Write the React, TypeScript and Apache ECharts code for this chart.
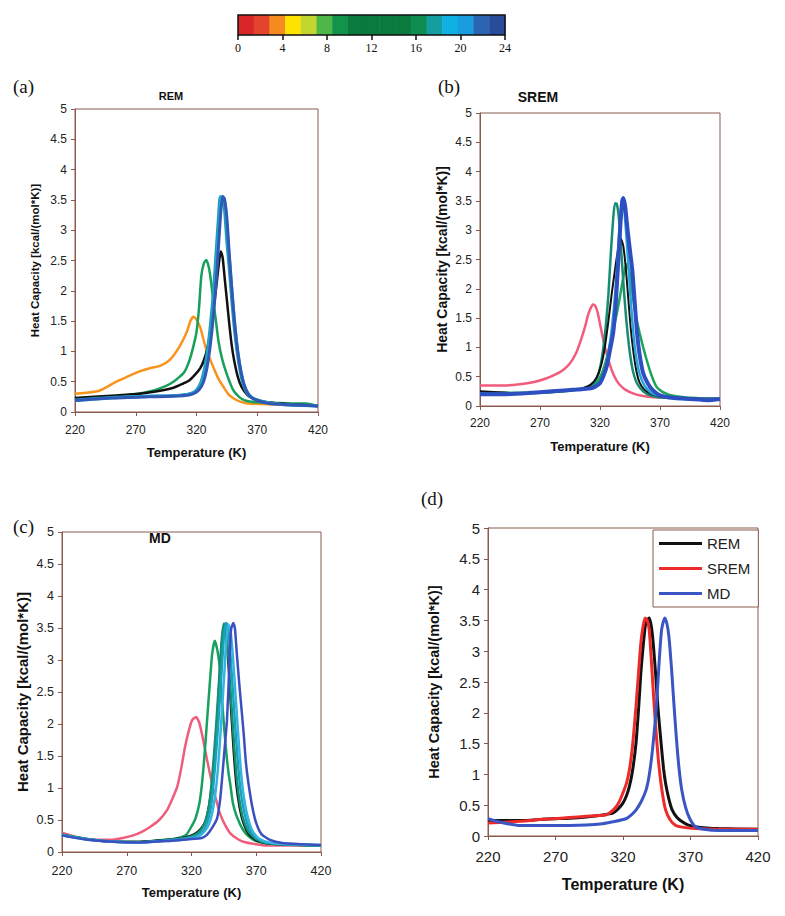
import React, { useEffect, useRef } from "react";
import * as echarts from "echarts";

type Pt = [number, number];

const BROWN = "#8b5a4e";
const SANS = "'Liberation Sans', Arial, sans-serif";
const SERIF = "'Liberation Serif', 'Times New Roman', serif";

const T0 = 220;
const xTickLabels = [220, 270, 320, 370, 420];
const yMax = 5;
const yStep = 0.5;

// colour bar (simulation time 0..24)
const colorbarTicks = [0, 4, 8, 12, 16, 20, 24];
const colorbarColors = [
  "#d9262b", "#e4432c", "#f58a1f", "#fde300", "#c3d62f", "#4db848", "#13924c",
  "#0a7a3e", "#0a7a3e", "#0a7a3e", "#0a7a3e",
  "#0f8c4f", "#139fa0", "#10b0e5", "#1a9ddf", "#2a64b2", "#284b9a",
];

// ---------- (a) REM ----------
const aOrange: Pt[] = [[220,0.30],[240,0.35],[254,0.50],[265,0.60],[273,0.67],[283,0.73],[290,0.76],[298,0.86],[306,1.08],[312,1.32],[315,1.50],[317.5,1.57],[320,1.52],[323,1.40],[326,1.18],[328,1.03],[331,0.88],[334,0.73],[338,0.55],[342,0.42],[346,0.30],[350,0.23],[356,0.17],[362,0.14],[375,0.13],[390,0.12],[405,0.11],[420,0.10]];
const aGreen: Pt[] = [[220,0.22],[250,0.26],[268,0.29],[284,0.35],[295,0.43],[301,0.50],[306,0.58],[310,0.66],[314,0.84],[317,1.05],[320,1.32],[322,1.70],[324,2.25],[326,2.45],[328,2.51],[330,2.40],[332,2.15],[334,1.80],[336,1.50],[338,1.18],[341,0.88],[345,0.62],[350,0.37],[355,0.25],[360,0.19],[370,0.16],[385,0.15],[400,0.14],[410,0.14],[420,0.10]];
const aBlack: Pt[] = [[220,0.23],[250,0.27],[273,0.30],[290,0.35],[301,0.40],[309,0.47],[314,0.52],[319,0.62],[323,0.72],[326,0.85],[329,1.05],[332,1.40],[335,1.85],[337,2.20],[339,2.55],[340,2.65],[341.5,2.55],[343,2.25],[345,1.85],[347,1.45],[349,1.10],[351,0.85],[354,0.58],[357,0.42],[362,0.28],[367,0.22],[378,0.16],[395,0.13],[420,0.10]];
const aTeal: Pt[] = [[220,0.20],[250,0.24],[280,0.26],[300,0.27],[312,0.29],[318,0.33],[322,0.42],[325,0.58],[328,0.88],[331,1.35],[334,2.00],[336,2.60],[338,3.20],[339.5,3.55],[341,3.55],[343,3.35],[345,2.80],[347,2.35],[349,1.85],[351,1.40],[353,1.05],[355,0.78],[358,0.48],[362,0.30],[367,0.22],[375,0.17],[390,0.13],[420,0.10]];
const aLightBlue: Pt[] = [[220,0.19],[250,0.23],[280,0.26],[300,0.27],[313,0.29],[319,0.33],[323,0.42],[326,0.58],[329,0.88],[332,1.35],[335,2.00],[337,2.60],[339,3.20],[340.5,3.55],[342,3.55],[344,3.35],[346,2.80],[348,2.30],[350,1.80],[352,1.35],[354,1.00],[356,0.74],[359,0.46],[363,0.29],[368,0.21],[376,0.16],[392,0.12],[420,0.10]];
const aBlue: Pt[] = [[220,0.19],[250,0.23],[280,0.25],[300,0.26],[314,0.28],[320,0.33],[324,0.42],[327,0.58],[330,0.90],[333,1.40],[336,2.10],[338,2.70],[340,3.30],[341.5,3.55],[343,3.52],[345,3.20],[347,2.60],[349,2.05],[351,1.55],[353,1.15],[355,0.85],[357,0.62],[360,0.40],[364,0.26],[370,0.19],[380,0.14],[395,0.12],[420,0.10]];

// ---------- (b) SREM ----------
const bPink: Pt[] = [[220,0.35],[240,0.35],[253,0.37],[265,0.41],[275,0.47],[283,0.54],[289,0.61],[295,0.73],[300,0.90],[304,1.12],[307.5,1.35],[310,1.55],[312,1.66],[314,1.73],[316,1.71],[318,1.60],[320,1.40],[322.5,1.15],[325,0.93],[328,0.72],[331,0.55],[334,0.43],[337,0.35],[341,0.28],[348,0.21],[356,0.17],[364,0.15],[380,0.14],[400,0.13],[420,0.13]];
const bTealGreen: Pt[] = [[220,0.23],[250,0.22],[275,0.23],[295,0.27],[305,0.30],[312,0.35],[317,0.46],[320,0.65],[322.5,0.95],[325,1.40],[327,1.90],[329,2.60],[331,3.20],[332.5,3.46],[334,3.45],[336,3.15],[338,2.55],[340,1.95],[342,1.45],[344,1.05],[346,0.75],[348,0.55],[351,0.38],[356,0.25],[362,0.18],[375,0.14],[400,0.13],[420,0.12]];
const bBlack: Pt[] = [[220,0.25],[250,0.22],[275,0.24],[295,0.27],[305,0.30],[312,0.36],[317,0.48],[321,0.70],[324,1.00],[327,1.45],[330,1.95],[333,2.40],[335.5,2.72],[337.5,2.85],[339.5,2.72],[341.5,2.35],[343.5,1.85],[345.5,1.35],[348,0.90],[350.5,0.58],[353,0.40],[357,0.28],[363,0.20],[375,0.15],[400,0.13],[420,0.12]];
const bGreen: Pt[] = [[220,0.22],[250,0.22],[275,0.23],[295,0.26],[305,0.29],[312,0.33],[318,0.42],[322,0.58],[326,0.85],[329,1.12],[332,1.40],[334,1.58],[336.5,1.85],[339.5,2.20],[342,2.42],[344.5,2.30],[347.5,1.85],[350,1.52],[353,1.25],[356,1.00],[359,0.78],[363,0.52],[367,0.33],[372,0.24],[378,0.19],[390,0.15],[405,0.13],[420,0.12]];
const bLightBlue: Pt[] = [[220,0.21],[250,0.21],[280,0.25],[300,0.28],[314,0.31],[320,0.40],[324,0.60],[327,0.90],[330,1.35],[333,2.00],[335.5,2.80],[337.5,3.35],[338.5,3.50],[340,3.40],[342,2.90],[344,2.30],[346,1.70],[348,1.20],[350,0.85],[353,0.55],[357,0.35],[363,0.22],[375,0.15],[400,0.12],[420,0.12]];
const bBlue: Pt[] = [[220,0.20],[240,0.20],[260,0.22],[280,0.25],[300,0.28],[314,0.31],[320,0.39],[323,0.52],[325.5,0.67],[328,0.92],[331,1.25],[333,1.70],[335,2.40],[337,3.10],[338.5,3.50],[339.5,3.55],[341,3.40],[343,3.00],[345,2.65],[347,2.30],[349,1.75],[351,1.22],[353,0.88],[356,0.56],[360,0.38],[364,0.27],[370,0.18],[380,0.14],[395,0.12],[410,0.10],[420,0.12]];

// ---------- (c) MD ----------
const cPink: Pt[] = [[220,0.30],[228,0.25],[237,0.21],[247,0.19],[257,0.19],[267,0.22],[275,0.26],[282,0.32],[288,0.39],[295,0.50],[301,0.65],[305,0.82],[309,1.02],[312,1.30],[315,1.64],[318,1.90],[320.5,2.06],[323.5,2.11],[326,2.02],[328,1.85],[330,1.65],[332,1.44],[334.5,1.20],[337,0.97],[339.5,0.78],[342,0.60],[346,0.42],[350,0.29],[355,0.21],[360,0.16],[370,0.12],[378,0.10],[395,0.10],[420,0.10]];
const cGreen: Pt[] = [[220,0.27],[240,0.20],[260,0.16],[280,0.16],[300,0.19],[310,0.22],[316,0.27],[320,0.40],[323,0.52],[326,0.75],[328,1.05],[330,1.50],[332,2.05],[334,2.60],[336,3.10],[338,3.30],[340,3.15],[342,2.85],[343.5,2.40],[345,2.00],[346.7,1.59],[348.5,1.25],[350,1.05],[352,0.76],[355,0.55],[360,0.34],[365,0.23],[370,0.17],[380,0.13],[400,0.11],[420,0.10]];
const cBlack: Pt[] = [[220,0.27],[240,0.20],[260,0.16],[280,0.16],[300,0.19],[315,0.23],[322,0.28],[327,0.36],[331,0.50],[334,0.80],[337,1.30],[339.5,2.00],[341.5,2.70],[343.5,3.30],[345,3.50],[346.5,3.40],[348.5,2.90],[350.5,2.20],[352.5,1.55],[354.5,1.05],[357,0.70],[360,0.45],[364,0.28],[370,0.18],[380,0.13],[400,0.11],[420,0.10]];
const cTealGreen: Pt[] = [[220,0.27],[240,0.20],[260,0.16],[280,0.15],[300,0.18],[314,0.21],[322,0.26],[327,0.34],[330.5,0.47],[333.5,0.72],[335.5,1.07],[337.5,1.55],[339.5,2.11],[341.5,2.75],[343.5,3.35],[345,3.57],[346.5,3.52],[348.5,3.05],[350.5,2.40],[352.5,1.80],[354.5,1.25],[356.5,0.88],[359.5,0.55],[364,0.32],[370,0.20],[378,0.14],[395,0.12],[420,0.10]];
const cTeal: Pt[] = [[220,0.27],[240,0.20],[260,0.16],[280,0.15],[300,0.18],[315,0.21],[324,0.25],[329,0.33],[332,0.45],[335,0.70],[337,1.07],[339,1.55],[341,2.11],[343,2.75],[345,3.35],[346.5,3.58],[348,3.55],[350,3.10],[352,2.50],[354,1.90],[356,1.35],[358,0.95],[361,0.60],[365,0.35],[370,0.22],[378,0.15],[395,0.12],[420,0.10]];
const cLightBlue: Pt[] = [[220,0.26],[240,0.19],[260,0.16],[280,0.15],[300,0.17],[316,0.20],[325,0.24],[330,0.32],[334,0.46],[337,0.72],[339.5,1.10],[341.5,1.60],[343.5,2.20],[345.5,2.85],[347,3.35],[348.5,3.55],[350,3.48],[352,3.05],[354,2.45],[356,1.85],[358,1.30],[360,0.92],[363,0.58],[367,0.33],[372,0.21],[380,0.15],[395,0.12],[420,0.11]];
const cBlue: Pt[] = [[220,0.26],[240,0.19],[260,0.16],[280,0.15],[300,0.17],[318,0.20],[328,0.22],[332,0.27],[336,0.38],[339.7,0.52],[342,0.80],[343.5,1.12],[345.5,1.60],[347.4,2.06],[349,2.80],[350.5,3.47],[352.3,3.58],[353.5,3.50],[355,3.10],[357,2.60],[359,2.15],[360.5,1.80],[362,1.40],[364,1.07],[367,0.70],[370,0.45],[374,0.28],[380.6,0.19],[390,0.14],[405,0.12],[420,0.11]];

// ---------- (d) comparison ----------
const dREM: Pt[] = [[220,0.25],[243.8,0.25],[260,0.27],[268,0.28],[280,0.29],[292.8,0.31],[305,0.34],[312.4,0.37],[316,0.43],[319.8,0.53],[322.5,0.65],[324.7,0.80],[327,1.05],[329.6,1.50],[331.5,2.05],[333.2,2.64],[335,3.10],[337,3.48],[339.4,3.54],[341,3.40],[342.5,3.10],[344.3,2.59],[346,2.05],[348,1.56],[350,1.10],[351.6,0.85],[354,0.60],[356.5,0.42],[360,0.30],[363.9,0.23],[368,0.18],[373.7,0.15],[382,0.13],[390.8,0.12],[420,0.11]];
const dSREM: Pt[] = [[220,0.21],[243.8,0.24],[260,0.27],[268.3,0.28],[280,0.30],[292.8,0.32],[300,0.33],[307,0.34],[311,0.39],[314.8,0.47],[317.5,0.57],[319.8,0.69],[322.5,0.85],[324.7,1.07],[327,1.45],[329.6,2.10],[331.5,2.65],[333.2,3.13],[335,3.42],[336.4,3.54],[338,3.50],[339.4,3.35],[341,2.85],[343,2.15],[345,1.55],[346.7,1.12],[349,0.72],[351.6,0.42],[355,0.26],[359,0.17],[365,0.14],[373.7,0.12],[390,0.11],[420,0.11]];
const dMD: Pt[] = [[220,0.28],[230,0.22],[243.8,0.17],[268.3,0.17],[292.8,0.18],[305,0.20],[312.4,0.23],[322.2,0.28],[326,0.34],[329.6,0.42],[333.5,0.56],[337,0.74],[339.5,1.00],[341.8,1.39],[343.8,1.85],[345.5,2.37],[347,2.90],[348.6,3.35],[350.9,3.54],[352.5,3.45],[354,3.24],[356,2.70],[357.7,2.15],[359.5,1.60],[361.4,1.12],[363.5,0.75],[366.3,0.47],[369.5,0.28],[373.7,0.15],[380,0.11],[390.8,0.09],[420,0.09]];

type S = { name: string; color: string; width: number; data: Pt[] };

const panelA: S[] = [
  { name: "a-orange", color: "#f7941d", width: 2.5, data: aOrange },
  { name: "a-green", color: "#16a05a", width: 2.5, data: aGreen },
  { name: "a-black", color: "#111111", width: 2.5, data: aBlack },
  { name: "a-teal", color: "#1c9fb2", width: 3, data: aTeal },
  { name: "a-lightblue", color: "#27a6dc", width: 3, data: aLightBlue },
  { name: "a-blue", color: "#3159b4", width: 3, data: aBlue },
];
const panelB: S[] = [
  { name: "b-pink", color: "#f25b7b", width: 2.5, data: bPink },
  { name: "b-green", color: "#1ea35c", width: 2.5, data: bGreen },
  { name: "b-tealgreen", color: "#168c72", width: 2.5, data: bTealGreen },
  { name: "b-black", color: "#111111", width: 2, data: bBlack },
  { name: "b-lightblue", color: "#27a3d8", width: 2.5, data: bLightBlue },
  { name: "b-blue", color: "#2d4fc2", width: 4, data: bBlue },
];
const panelC: S[] = [
  { name: "c-pink", color: "#f05c7c", width: 2.5, data: cPink },
  { name: "c-green", color: "#17a05e", width: 2.5, data: cGreen },
  { name: "c-black", color: "#111111", width: 2, data: cBlack },
  { name: "c-tealgreen", color: "#139072", width: 2.5, data: cTealGreen },
  { name: "c-teal", color: "#18a3b8", width: 2.5, data: cTeal },
  { name: "c-lightblue", color: "#35b3e3", width: 2.5, data: cLightBlue },
  { name: "c-blue", color: "#3b4fc0", width: 2.5, data: cBlue },
];
const panelD: S[] = [
  { name: "REM", color: "#111111", width: 3, data: dREM },
  { name: "SREM", color: "#ee2a2a", width: 3, data: dSREM },
  { name: "MD", color: "#3a55c4", width: 3, data: dMD },
];

type Panel = {
  grid: { left: number; top: number; width: number; height: number };
  tickFont: number; labelMargin: number;
  yNameFont: number; yNameGap: number;
  xNameFont: number; xNameGap: number;
  series: S[];
};

const panels: Panel[] = [
  { grid: { left: 75, top: 109, width: 243, height: 303 }, tickFont: 12, labelMargin: 12, yNameFont: 11.5, yNameGap: 34, xNameFont: 13, xNameGap: 34, series: panelA },
  { grid: { left: 480, top: 113, width: 240, height: 293 }, tickFont: 12, labelMargin: 11, yNameFont: 14, yNameGap: 31, xNameFont: 13, xNameGap: 34, series: panelB },
  { grid: { left: 62, top: 532, width: 259, height: 320 }, tickFont: 12.5, labelMargin: 12, yNameFont: 15, yNameGap: 32, xNameFont: 13, xNameGap: 34, series: panelC },
  { grid: { left: 488, top: 528, width: 270, height: 308 }, tickFont: 15, labelMargin: 13, yNameFont: 14.5, yNameGap: 47, xNameFont: 16, xNameGap: 40, series: panelD },
];

const panelLetters = [
  { text: "(a)", x: 25, y: 88 },
  { text: "(b)", x: 450, y: 88 },
  { text: "(c)", x: 25, y: 528 },
  { text: "(d)", x: 433, y: 500 },
];
const panelTitles = [
  { text: "REM", x: 171, y: 96, size: 11 },
  { text: "SREM", x: 538, y: 97, size: 14 },
  { text: "MD", x: 160, y: 538, size: 14 },
];

function buildOption(): any {
  const grids: any[] = [];
  const xAxes: any[] = [];
  const yAxes: any[] = [];
  const series: any[] = [];

  panels.forEach((p, i) => {
    grids.push({ ...p.grid, show: true, borderColor: BROWN, borderWidth: 1, backgroundColor: "transparent" });
    xAxes.push({
      type: "value", gridIndex: i, min: 0, max: xTickLabels[xTickLabels.length - 1] - T0, interval: 50,
      name: "Temperature (K)", nameLocation: "middle", nameGap: p.xNameGap,
      nameTextStyle: { fontFamily: SANS, fontSize: p.xNameFont, fontWeight: "bold", color: "#111" },
      axisLine: { show: true, lineStyle: { color: BROWN, width: 1 } },
      axisTick: { show: true, inside: false, length: 4, lineStyle: { color: BROWN } },
      axisLabel: { fontFamily: SANS, fontSize: p.tickFont, color: "#222", margin: p.labelMargin, formatter: (v: number) => String(v + T0) },
      splitLine: { show: false },
    });
    yAxes.push({
      type: "value", gridIndex: i, min: 0, max: yMax, interval: yStep,
      name: "Heat Capacity [kcal/(mol*K)]", nameLocation: "middle", nameGap: p.yNameGap, nameRotate: 90,
      nameTextStyle: { fontFamily: SANS, fontSize: p.yNameFont, fontWeight: "bold", color: "#111" },
      axisLine: { show: true, lineStyle: { color: BROWN, width: 1 } },
      axisTick: { show: true, inside: false, length: 4, lineStyle: { color: BROWN } },
      axisLabel: { fontFamily: SANS, fontSize: p.tickFont, color: "#222", margin: 8 },
      splitLine: { show: false },
    });
    p.series.forEach((s) => {
      series.push({
        type: "line", name: s.name, xAxisIndex: i, yAxisIndex: i,
        data: s.data.map(([t, v]) => [t - T0, v]),
        showSymbol: false, symbol: "none", smooth: 0.2,
        lineStyle: { color: s.color, width: s.width }, itemStyle: { color: s.color },
        silent: true,
      });
    });
  });

  // colour bar
  const cbIndex = panels.length;
  grids.push({ left: 238, top: 15, width: 267, height: 20, show: true, borderColor: "#111", borderWidth: 1.5, backgroundColor: "transparent", z: 5 });
  xAxes.push({
    type: "value", gridIndex: cbIndex, min: colorbarTicks[0], max: colorbarTicks[colorbarTicks.length - 1], interval: 4,
    axisLine: { show: false }, axisTick: { show: true, length: 5, lineStyle: { color: "#111", width: 1.5 } },
    axisLabel: { fontFamily: SERIF, fontSize: 12, color: "#111", margin: 7 }, splitLine: { show: false },
  });
  yAxes.push({ type: "value", gridIndex: cbIndex, min: 0, max: 1, show: false });
  const n = colorbarColors.length;
  const span = colorbarTicks[colorbarTicks.length - 1] - colorbarTicks[0];
  series.push({
    type: "custom", xAxisIndex: cbIndex, yAxisIndex: cbIndex, silent: true,
    data: colorbarColors.map((_, k) => [k * span / n, (k + 1) * span / n, k]),
    renderItem: (_params: any, api: any) => {
      const s = api.coord([api.value(0), 1]);
      const e = api.coord([api.value(1), 0]);
      return { type: "rect", shape: { x: s[0], y: s[1], width: e[0] - s[0] + 0.5, height: e[1] - s[1] }, style: { fill: colorbarColors[api.value(2)] } };
    },
  });

  const graphics: any[] = [];
  panelLetters.forEach((l) => graphics.push({ type: "text", left: l.x - 12, top: l.y - 11, style: { text: l.text, font: `19px ${SERIF}`, fill: "#111" } }));
  panelTitles.forEach((t) => graphics.push({ type: "text", x: t.x, y: t.y, style: { text: t.text, font: `bold ${t.size}px ${SANS}`, fill: "#111", textAlign: "center", textVerticalAlign: "middle" } }));

  return {
    animation: false,
    backgroundColor: "#ffffff",
    grid: grids, xAxis: xAxes, yAxis: yAxes, series,
    legend: {
      data: panelD.map((s) => s.name), orient: "vertical", left: 653, top: 530,
      icon: "rect", itemWidth: 43, itemHeight: 3, itemGap: 10,
      padding: [6, 8, 6, 6], borderColor: BROWN, borderWidth: 1, backgroundColor: "#fff",
      textStyle: { fontFamily: SANS, fontSize: 15, color: "#222" }, selectedMode: false,
    },
    graphic: graphics,
  };
}

export default function App() {
  const ref = useRef<HTMLDivElement>(null);
  useEffect(() => {
    if (!ref.current) return;
    const chart = echarts.init(ref.current, undefined, { renderer: "svg" });
    chart.setOption(buildOption());
    return () => chart.dispose();
  }, []);
  return <div ref={ref} style={{ position: "fixed", left: 0, top: 0, width: 785, height: 916, background: "#fff" }} />;
}
